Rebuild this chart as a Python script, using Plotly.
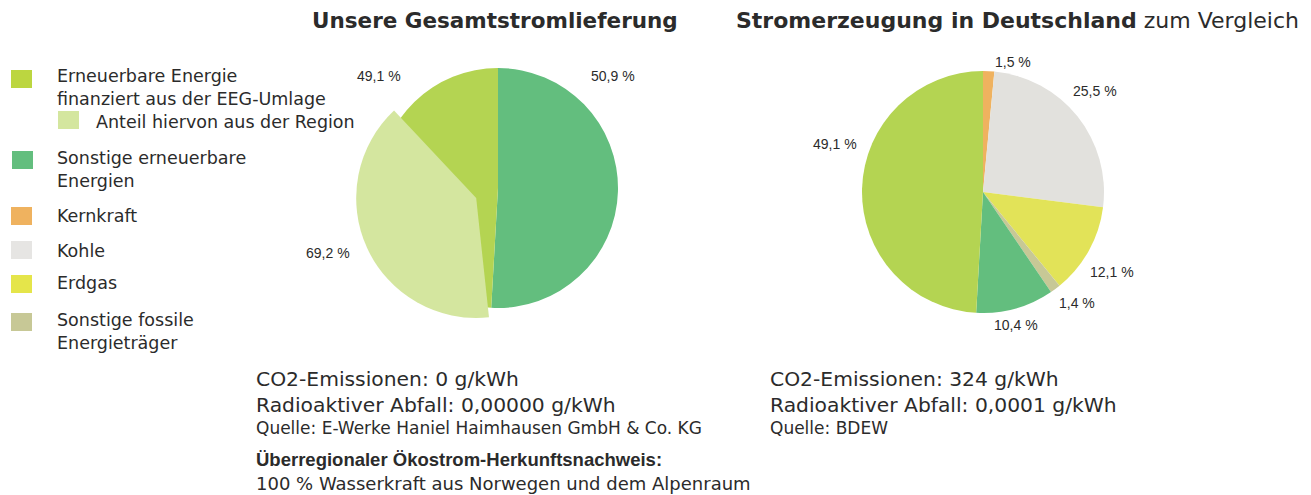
import plotly.graph_objects as go

W, H = 1311, 495

# ---- data ----
left_labels = ["Sonstige erneuerbare Energien", "Erneuerbare Energie finanziert aus der EEG-Umlage"]
left_values = [50.9, 49.1]
left_texts = ["50,9 %", "49,1 %"]
regional_text = "69,2 %"
# overlay wedge ("Anteil hiervon aus der Region") as drawn in the picture (share of full circle)
overlay_labels = ["vor Region", "Anteil hiervon aus der Region", "nach Region"]
overlay_values = [48.3, 39.7, 12.0]

right_labels = ["Kernkraft", "Kohle", "Erdgas", "Sonstige fossile Energieträger",
                "Sonstige erneuerbare Energien", "Erneuerbare Energie finanziert aus der EEG-Umlage"]
right_values = [1.5, 25.5, 12.1, 1.4, 10.4, 49.1]
right_texts = ["1,5 %", "25,5 %", "12,1 %", "1,4 %", "10,4 %", "49,1 %"]

legend_items = ["Erneuerbare Energie<br>finanziert aus der EEG-Umlage", "Anteil hiervon aus der Region",
                "Sonstige erneuerbare<br>Energien", "Kernkraft", "Kohle", "Erdgas",
                "Sonstige fossile<br>Energieträger"]

# ---- styles ----
C_EEG = "#b4d452"
C_REG = "#d4e69f"
C_OTH = "#63be7e"
C_KERN = "#efb25f"
C_KOHLE = "#e2e1dd"
C_GAS = "#e2e358"
C_FOSS = "#c7c896"
NONE = "rgba(0,0,0,0)"
LEG_COLORS = ["#bcd640", C_REG, C_OTH, C_KERN, "#e6e5e3", "#e5e54a", C_FOSS]
TXT = "#2b2b2b"
FONT_T = "DejaVu Sans"


def px(x, y):
    return x / W, 1 - y / H


def dom(cx, cy, half):
    x0, y1 = px(cx - half, cy - half)
    x1, y0 = px(cx + half, cy + half)
    return dict(x=[x0, x1], y=[y0, y1])


fig = go.Figure()
fig.add_trace(go.Pie(
    labels=left_labels, values=left_values, sort=False, direction="clockwise", rotation=0,
    marker=dict(colors=[C_OTH, C_EEG], line=dict(width=0)),
    textinfo="none", hoverinfo="label+percent", showlegend=False,
    domain=dom(498, 188, 120)))
fig.add_trace(go.Pie(
    labels=overlay_labels, values=overlay_values, sort=False, direction="clockwise", rotation=0,
    marker=dict(colors=[NONE, C_REG, NONE], line=dict(width=0)),
    pull=[0, 0.2, 0], textinfo="none", hoverinfo="skip", showlegend=False,
    domain=dom(498, 188, 144)))
fig.add_trace(go.Pie(
    labels=right_labels, values=right_values, sort=False, direction="clockwise", rotation=0,
    marker=dict(colors=[C_KERN, C_KOHLE, C_GAS, C_FOSS, C_OTH, C_EEG], line=dict(width=0)),
    textinfo="none", hoverinfo="label+percent", showlegend=False,
    domain=dom(983, 192, 121)))

ann = []
shapes = []


def text(x, y, s, size, anchor="left", family=FONT_T, color=TXT):
    X, Y = px(x, y)
    ann.append(dict(x=X, y=Y, xref="paper", yref="paper", text=s, showarrow=False,
                    xanchor=anchor, yanchor="middle", align="left",
                    font=dict(size=size, family=family, color=color)))


# percent labels
lab_font = "Liberation Sans"
for (x, y), t in zip([(613, 76), (379, 76)], left_texts):
    text(x, y, t, 14, "center", lab_font)
text(328, 253, regional_text, 14, "center", lab_font)
for (x, y), t in zip([(1013, 62), (1095, 91), (1112, 272), (1077, 303), (1016, 325), (835, 144)], right_texts):
    text(x, y, t, 14, "center", lab_font)

# titles
text(495, 20, "<b>Unsere Gesamtstromlieferung</b>", 21.5, "center")
text(734, 20, "<b>Stromerzeugung in Deutschland</b> zum Vergleich", 22, "left")

# legend
sq = [(11, 70, 21, 18), (58, 111, 21, 18), (12, 151, 21, 18), (11, 207, 21, 18),
      (11, 241, 21, 18), (11, 275, 21, 18), (11, 313, 21, 18)]
tpos = [(55, 87.5), (94, 122), (55, 169.5), (55, 216), (55, 251), (55, 283), (55, 331)]
for (x, y, w, h), c, (tx, ty), s in zip(sq, LEG_COLORS, tpos, legend_items):
    x0, y1 = px(x, y)
    x1, y0 = px(x + w, y + h)
    shapes.append(dict(type="rect", xref="paper", yref="paper", x0=x0, x1=x1, y0=y0, y1=y1,
                       fillcolor=c, line=dict(width=0)))
    text(tx, ty, s, 17.5, "left")

# bottom texts
text(254, 391.5, "CO2-Emissionen: 0 g/kWh<br>Radioaktiver Abfall: 0,00000 g/kWh", 20.3)
text(254, 428, "Quelle: E-Werke Haniel Haimhausen GmbH &amp; Co. KG", 17)
text(254, 459, "<b>Überregionaler Ökostrom-Herkunftsnachweis:</b>", 18.5, family="Liberation Sans")
text(254, 483, "100 % Wasserkraft aus Norwegen und dem Alpenraum", 18)
text(768, 391.5, "CO2-Emissionen: 324 g/kWh<br>Radioaktiver Abfall: 0,0001 g/kWh", 20.3)
text(768, 428, "Quelle: BDEW", 17)

fig.update_layout(width=W, height=H, margin=dict(l=0, r=0, t=0, b=0),
                  paper_bgcolor="white", plot_bgcolor="white",
                  annotations=ann, shapes=shapes, showlegend=False)
fig.write_html("out.html", config={"displayModeBar": False},
               post_script="document.body.style.margin='0';document.body.style.overflow='hidden';")
